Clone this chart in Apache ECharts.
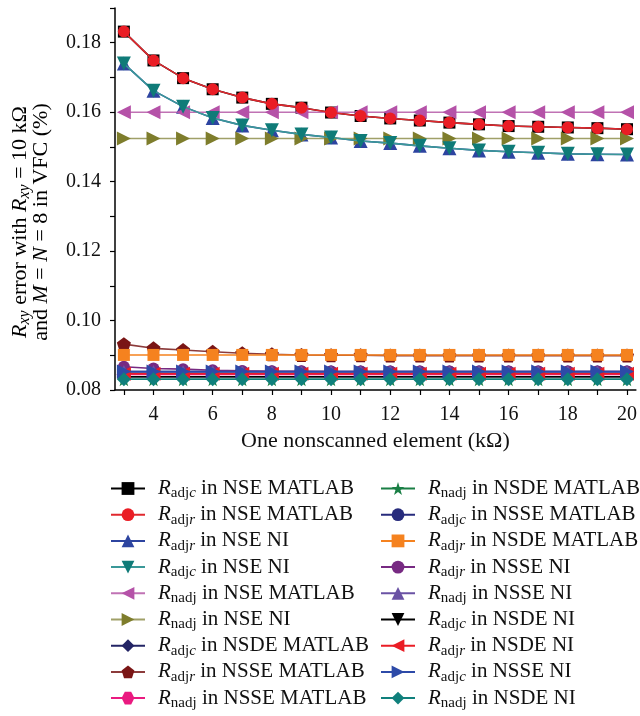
<!DOCTYPE html>
<html>
<head>
<meta charset="utf-8">
<script src="https://cdn.jsdelivr.net/npm/echarts@6/dist/echarts.min.js"></script>
<style>
html,body{margin:0;padding:0;background:#fff;}
#chart{width:640px;height:716px;}
</style>
</head>
<body>
<div id="chart"></div>
<script>
// ---------- data ----------
const xValues = [3, 4, 5, 6, 7, 8, 9, 10, 11, 12, 13, 14, 15, 16, 17, 18, 19, 20];
const xTickLabels = [4, 6, 8, 10, 12, 14, 16, 18, 20];
const yTickLabels = [0.08, 0.10, 0.12, 0.14, 0.16, 0.18];

const nseMatlabAdjc = [0.1832, 0.1749, 0.1698, 0.1666, 0.1642, 0.1624, 0.1613, 0.1599, 0.1589, 0.1582, 0.1576, 0.1570, 0.1565, 0.1560, 0.1558, 0.1556, 0.1554, 0.1551];
const nseMatlabAdjr = [0.1832, 0.1749, 0.1698, 0.1666, 0.1642, 0.1624, 0.1613, 0.1599, 0.1589, 0.1582, 0.1576, 0.1570, 0.1565, 0.1560, 0.1558, 0.1556, 0.1554, 0.1551];
const nseNiAdjr = [0.1740, 0.1662, 0.1616, 0.1583, 0.1562, 0.1548, 0.1536, 0.1527, 0.1517, 0.1511, 0.1503, 0.1496, 0.1490, 0.1486, 0.1483, 0.1480, 0.1479, 0.1478];
const nseNiAdjc = [0.1740, 0.1662, 0.1616, 0.1583, 0.1562, 0.1548, 0.1536, 0.1527, 0.1517, 0.1511, 0.1503, 0.1496, 0.1490, 0.1486, 0.1483, 0.1480, 0.1479, 0.1478];
const nseMatlabNadj = [0.1600, 0.1600, 0.1600, 0.1600, 0.1600, 0.1600, 0.1600, 0.1600, 0.1600, 0.1600, 0.1600, 0.1600, 0.1600, 0.1600, 0.1600, 0.1600, 0.1600, 0.1600];
const nseNiNadj = [0.1524, 0.1524, 0.1524, 0.1524, 0.1524, 0.1524, 0.1524, 0.1524, 0.1524, 0.1524, 0.1524, 0.1524, 0.1524, 0.1524, 0.1524, 0.1524, 0.1524, 0.1524];
const nsdeMatlabAdjc = [0.0838, 0.0838, 0.0838, 0.0838, 0.0838, 0.0838, 0.0838, 0.0838, 0.0838, 0.0838, 0.0838, 0.0838, 0.0838, 0.0838, 0.0838, 0.0838, 0.0838, 0.0838];
const nsseMatlabAdjr = [0.0932, 0.0920, 0.0915, 0.0910, 0.0906, 0.0903, 0.0901, 0.0900, 0.0900, 0.0899, 0.0899, 0.0899, 0.0899, 0.0899, 0.0899, 0.0899, 0.0899, 0.0899];
const nsseMatlabNadj = [0.0845, 0.0845, 0.0845, 0.0845, 0.0845, 0.0845, 0.0845, 0.0845, 0.0845, 0.0845, 0.0845, 0.0845, 0.0845, 0.0845, 0.0845, 0.0845, 0.0845, 0.0845];
const nsdeMatlabNadj = [0.0831, 0.0831, 0.0831, 0.0831, 0.0831, 0.0831, 0.0831, 0.0831, 0.0831, 0.0831, 0.0831, 0.0831, 0.0831, 0.0831, 0.0831, 0.0831, 0.0831, 0.0831];
const nsseMatlabAdjc = [0.0853, 0.0853, 0.0853, 0.0853, 0.0853, 0.0853, 0.0853, 0.0853, 0.0853, 0.0853, 0.0853, 0.0853, 0.0853, 0.0853, 0.0853, 0.0853, 0.0853, 0.0853];
const nsdeMatlabAdjr = [0.0901, 0.0901, 0.0901, 0.0901, 0.0901, 0.0901, 0.0901, 0.0901, 0.0901, 0.0901, 0.0901, 0.0901, 0.0901, 0.0901, 0.0901, 0.0901, 0.0901, 0.0901];
const nsseNiAdjr = [0.0867, 0.0862, 0.0860, 0.0857, 0.0855, 0.0854, 0.0854, 0.0853, 0.0853, 0.0853, 0.0853, 0.0853, 0.0853, 0.0853, 0.0853, 0.0853, 0.0853, 0.0853];
const nsseNiNadj = [0.0852, 0.0852, 0.0852, 0.0852, 0.0852, 0.0852, 0.0852, 0.0852, 0.0852, 0.0852, 0.0852, 0.0852, 0.0852, 0.0852, 0.0852, 0.0852, 0.0852, 0.0852];
const nsdeNiAdjc = [0.0838, 0.0838, 0.0838, 0.0838, 0.0838, 0.0838, 0.0838, 0.0838, 0.0838, 0.0838, 0.0838, 0.0838, 0.0838, 0.0838, 0.0838, 0.0838, 0.0838, 0.0838];
const nsdeNiAdjr = [0.0847, 0.0847, 0.0847, 0.0847, 0.0847, 0.0847, 0.0847, 0.0847, 0.0847, 0.0847, 0.0847, 0.0847, 0.0847, 0.0847, 0.0847, 0.0847, 0.0847, 0.0847];
const nsseNiAdjc = [0.0853, 0.0853, 0.0853, 0.0853, 0.0853, 0.0853, 0.0853, 0.0853, 0.0853, 0.0853, 0.0853, 0.0853, 0.0853, 0.0853, 0.0853, 0.0853, 0.0853, 0.0853];
const nsdeNiNadj = [0.0831, 0.0831, 0.0831, 0.0831, 0.0831, 0.0831, 0.0831, 0.0831, 0.0831, 0.0831, 0.0831, 0.0831, 0.0831, 0.0831, 0.0831, 0.0831, 0.0831, 0.0831];

const seriesSubs = ['adjc', 'adjr', 'adjr', 'adjc', 'nadj', 'nadj', 'adjc', 'adjr', 'nadj',
                    'nadj', 'adjc', 'adjr', 'adjr', 'nadj', 'adjc', 'adjr', 'adjc', 'nadj'];
const seriesMethods = ['NSE MATLAB', 'NSE MATLAB', 'NSE NI', 'NSE NI', 'NSE MATLAB', 'NSE NI', 'NSDE MATLAB', 'NSSE MATLAB', 'NSSE MATLAB',
                       'NSDE MATLAB', 'NSSE MATLAB', 'NSDE MATLAB', 'NSSE NI', 'NSSE NI', 'NSDE NI', 'NSDE NI', 'NSSE NI', 'NSDE NI'];
const seriesValues = [nseMatlabAdjc, nseMatlabAdjr, nseNiAdjr, nseNiAdjc, nseMatlabNadj, nseNiNadj, nsdeMatlabAdjc, nsseMatlabAdjr, nsseMatlabNadj,
                      nsdeMatlabNadj, nsseMatlabAdjc, nsdeMatlabAdjr, nsseNiAdjr, nsseNiNadj, nsdeNiAdjc, nsdeNiAdjr, nsseNiAdjc, nsdeNiNadj];

// ---------- styles ----------
const STAR = 'path://M50,0 L61.8,35.4 L99,35.4 L69,57.3 L80.4,92.7 L50,70.8 L19.6,92.7 L31,57.3 L1,35.4 L38.2,35.4 Z';
const PENTA = 'path://M50,0 L97.6,34.5 L79.4,90.5 L20.6,90.5 L2.4,34.5 Z';
const HEXA = 'path://M25,0 L75,0 L100,43.3 L75,86.6 L25,86.6 L0,43.3 Z';
const styles = [
  {c: '#000000', l: '#000000', s: 'rect', r: 0, z: 12},
  {c: '#ea1d25', l: '#e0282e', s: 'circle', r: 0, z: 13},
  {c: '#2d44a0', l: '#2d44a0', s: 'triangle', r: 0, z: 12},
  {c: '#0f7b78', l: '#3a9898', s: 'triangle', r: 180, z: 13},
  {c: '#b552a8', l: '#c072b4', s: 'triangle', r: 90, z: 12},
  {c: '#7e7d2c', l: '#a0a068', s: 'triangle', r: -90, z: 12},
  {c: '#232465', l: '#232465', s: 'diamond', r: 0, z: 10},
  {c: '#7a1515', l: '#8c3b3b', s: PENTA, r: 0, z: 10},
  {c: '#ea1a80', l: '#ea1a80', s: HEXA, r: 0, z: 10},
  {c: '#1a7f45', l: '#1a7f45', s: STAR, r: 0, z: 10},
  {c: '#272b7c', l: '#272b7c', s: 'circle', r: 0, z: 10},
  {c: '#f5821f', l: '#f5821f', s: 'rect', r: 0, z: 11},
  {c: '#772a82', l: '#772a82', s: 'circle', r: 0, z: 10},
  {c: '#6a52a4', l: '#6a52a4', s: 'triangle', r: 0, z: 10},
  {c: '#000000', l: '#000000', s: 'triangle', r: 180, z: 10},
  {c: '#ea1d25', l: '#ea1d25', s: 'triangle', r: 90, z: 10},
  {c: '#2d4aa8', l: '#2d4aa8', s: 'triangle', r: -90, z: 11},
  {c: '#10807c', l: '#10807c', s: 'diamond', r: 0, z: 12}
];

const FONT = 'Liberation Serif';
const names = seriesSubs.map((s, i) => 'R' + s + ' in ' + seriesMethods[i]);

const series = seriesValues.map((vals, i) => ({
  name: names[i],
  type: 'line',
  data: vals.map((v, k) => [xValues[k], v]),
  symbol: styles[i].s,
  symbolRotate: styles[i].r,
  symbolSize: (styles[i].s === 'circle' || styles[i].s === 'rect') ? 12 : 14,
  showAllSymbol: true,
  z: styles[i].z,
  itemStyle: {color: styles[i].c},
  lineStyle: {color: styles[i].l, width: 1.6},
  emphasis: {disabled: true},
  animation: false
}));

function legendFmt(name) {
  const m = name.match(/^R(\w+) in (.*)$/);
  const sub = m[1], rest = m[2];
  let subTxt;
  if (sub === 'adjc' || sub === 'adjr') subTxt = '{s|adj}{si|' + sub.slice(3) + '}';
  else subTxt = '{s|' + sub + '}';
  return '{R|R}' + subTxt + '{t| in ' + rest + '}';
}
const legendRich = {
  R: {fontFamily: FONT, fontStyle: 'italic', fontSize: 21, color: '#111'},
  s: {fontFamily: FONT, fontSize: 15, color: '#111', padding: [10, 0, 0, 0]},
  si: {fontFamily: FONT, fontSize: 15, fontStyle: 'italic', color: '#111', padding: [10, 0, 0, 0]},
  t: {fontFamily: FONT, fontSize: 21, color: '#111'}
};
function legendCfg(items, left) {
  return {
    orient: 'vertical',
    left: left,
    top: 478,
    height: 300,
    padding: 0,
    itemWidth: 34,
    itemHeight: 16,
    itemGap: 3.2,
    data: items,
    formatter: legendFmt,
    selectedMode: false,
    textStyle: {rich: legendRich, padding: [0, 0, 0, 8]}
  };
}

const chart = echarts.init(document.getElementById('chart'), null, {renderer: 'canvas'});
chart.setOption({
  backgroundColor: '#ffffff',
  animation: false,
  grid: {left: 115, right: 0, top: 8, bottom: 326, containLabel: false},
  xAxis: {
    type: 'value',
    min: 2.7,
    max: 20.3,
    name: 'One nonscanned element (k\u03A9)',
    nameLocation: 'middle',
    nameGap: 40,
    nameTextStyle: {fontFamily: FONT, fontSize: 22, color: '#111'},
    axisLine: {lineStyle: {color: '#000', width: 1.5}},
    axisTick: {customValues: xValues, length: 5, lineStyle: {color: '#000', width: 1.2}},
    axisLabel: {customValues: xTickLabels, fontFamily: FONT, fontSize: 20, color: '#111', margin: 15},
    splitLine: {show: false}
  },
  yAxis: {
    type: 'value',
    min: 0.08,
    max: 0.19,
    axisLine: {show: true, lineStyle: {color: '#000', width: 1.5}},
    axisTick: {show: true, customValues: [0.08, 0.09, 0.10, 0.11, 0.12, 0.13, 0.14, 0.15, 0.16, 0.17, 0.18, 0.19], length: 5, lineStyle: {color: '#000', width: 1.2}},
    axisLabel: {customValues: yTickLabels, fontFamily: FONT, fontSize: 20, color: '#111', margin: 14,
      formatter: v => v.toFixed(2)},
    splitLine: {show: false}
  },
  legend: [
    legendCfg(names.slice(0, 9), 110),
    legendCfg(names.slice(9), 380)
  ],
  graphic: [{
    type: 'text',
    x: 31,
    y: 222,
    rotation: Math.PI / 2,
    style: {
      text: '{Ri|R}{si|xy}{t| error with }{Ri|R}{si|xy}{t| = 10 k\u03A9}\n{t|and }{Ri|M}{t| = }{Ri|N}{t| = 8 in VFC (%)}',
      align: 'center',
      verticalAlign: 'middle',
      rich: {
        Ri: {fontFamily: FONT, fontStyle: 'italic', fontSize: 22, color: '#111', lineHeight: 21},
        si: {fontFamily: FONT, fontStyle: 'italic', fontSize: 16, color: '#111', padding: [9, 0, 0, 0], lineHeight: 21},
        t: {fontFamily: FONT, fontSize: 22, color: '#111', lineHeight: 21}
      }
    }
  }],
  series: series
});
</script>
</body>
</html>
